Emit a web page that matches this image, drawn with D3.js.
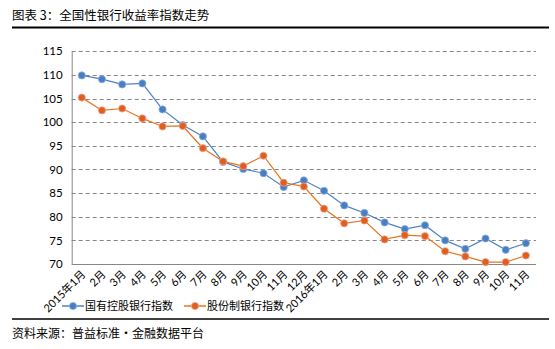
<!DOCTYPE html>
<html><head><meta charset="utf-8">
<script src="https://cdn.jsdelivr.net/npm/d3@7"></script>
<style>
body{margin:0;background:#fff;}
svg{display:block;}
text{font-family:Lato,"Noto Sans CJK SC",sans-serif;}
</style></head>
<body>
<div id="chart"></div>
<script>
const categories = ["2015年1月","2月","3月","4月","5月","6月","7月","8月","9月","10月","11月","12月",
  "2016年1月","2月","3月","4月","5月","6月","7月","8月","9月","10月","11月"];
const stateOwned = [109.9,109.1,108.0,108.2,102.7,99.4,97.0,91.6,90.1,89.2,86.3,87.7,
  85.5,82.4,80.8,78.8,77.4,78.2,75.0,73.2,75.4,73.0,74.4];
const jointStock = [105.2,102.5,102.9,100.8,99.1,99.2,94.5,91.7,90.7,92.9,87.2,86.4,
  81.7,78.6,79.2,75.2,76.1,75.9,72.7,71.6,70.4,70.4,71.8];
const yTicks = [70,75,80,85,90,95,100,105,110,115];
const seriesNames = ["国有控股银行指数","股份制银行指数"];
const title = "图表 3：全国性银行收益率指数走势";
const source = "资料来源：普益标准·金融数据平台";

const W = 555, H = 349;
const svg = d3.select("#chart").append("svg").attr("width", W).attr("height", H);

const pLeft = 71.7, pRight = 536, pTop = 51.3, pBottom = 264;
const x = d3.scalePoint().domain(categories.map((c,i)=>i)).range([pLeft, pRight]).padding(0.5);
const y = d3.scaleLinear().domain([70,115]).range([pBottom, pTop]);

// title
svg.append("text").attr("x", 12).attr("y", 20).attr("font-size", 12.5)
  .style("font-family", "'Noto Sans CJK SC'").attr("fill", "#000").text(title);
svg.append("line").attr("x1", 12).attr("x2", 549).attr("y1", 27.5).attr("y2", 27.5)
  .attr("stroke", "#000").attr("stroke-width", 2);

// grid
svg.append("g").selectAll("line").data(yTicks.filter(t => t > 70)).join("line")
  .attr("x1", pLeft).attr("x2", pRight).attr("y1", d => Math.round(y(d)) + 0.5).attr("y2", d => Math.round(y(d)) + 0.5)
  .attr("stroke", "#878787").attr("stroke-width", 1).attr("stroke-dasharray", "4,3");

// axes
const yAxis = svg.append("g").attr("transform", `translate(${pLeft},0)`)
  .call(d3.axisLeft(y).tickValues(yTicks).tickSize(0).tickPadding(9));
yAxis.select(".domain").attr("stroke", "#878787");
yAxis.selectAll("text").attr("font-size", 11.5).attr("fill", "#000").style("font-family", "Lato");

const xAxis = svg.append("g").attr("transform", `translate(0,${pBottom})`)
  .call(d3.axisBottom(x).tickSize(0).tickFormat(i => categories[i]));
xAxis.select(".domain").attr("stroke", "#878787").attr("d", `M${pLeft},0.5H${pRight}`);
xAxis.selectAll("text").attr("font-size", 11).attr("fill", "#000")
  .attr("text-anchor", "end").attr("dy", null).attr("y", 0)
  .attr("transform", "translate(4,11) rotate(-45)");

const colors = ["#4f81c4", "#e8731f"];
const markerFill = ["#4a7ec2", "#e0601a"];
const markerStroke = ["#8fb3e0", "#f0a3a0"];
const seriesData = [stateOwned, jointStock];
const line = d3.line().x((d,i) => x(i)).y(d => y(d));

seriesData.forEach((s, k) => {
  svg.append("path").datum(s).attr("d", line).attr("fill", "none")
    .attr("stroke", colors[k]).attr("stroke-width", 1.2);
  svg.append("g").selectAll("circle").data(s).join("circle")
    .attr("cx", (d,i) => x(i)).attr("cy", d => y(d)).attr("r", 3.6)
    .attr("fill", markerFill[k]).attr("stroke", markerStroke[k]).attr("stroke-width", 0.8);
});

// legend
const legendY = 306;
const legendX = [62, 184];
seriesNames.forEach((n, k) => {
  const g = svg.append("g");
  g.append("line").attr("x1", legendX[k]).attr("x2", legendX[k] + 22).attr("y1", legendY).attr("y2", legendY)
    .attr("stroke", colors[k]).attr("stroke-width", 1.5);
  g.append("circle").attr("cx", legendX[k] + 11).attr("cy", legendY).attr("r", 3.6)
    .attr("fill", markerFill[k]).attr("stroke", markerStroke[k]).attr("stroke-width", 0.8);
  g.append("text").attr("x", legendX[k] + 23).attr("y", legendY + 4).attr("font-size", 11)
    .style("font-family", "'Noto Sans CJK SC'").attr("fill", "#000").text(n);
});

// bottom rule and source
svg.append("line").attr("x1", 12).attr("x2", 549).attr("y1", 319).attr("y2", 319)
  .attr("stroke", "#000").attr("stroke-width", 1.5);
svg.append("text").attr("x", 12).attr("y", 338).attr("font-size", 12)
  .style("font-family", "'Noto Sans CJK SC'").attr("fill", "#000").text(source);
</script>
</body></html>
